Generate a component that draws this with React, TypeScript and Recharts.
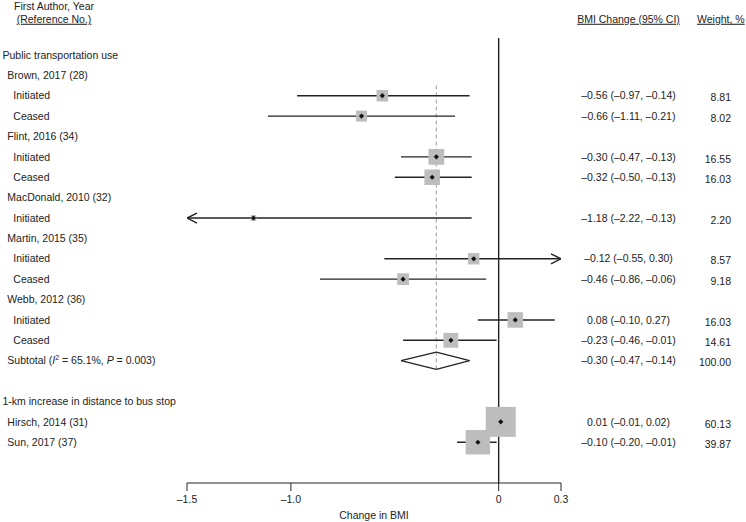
import { ScatterChart, Scatter, XAxis, YAxis, ReferenceLine, Label } from 'recharts';

// Forest plot: BMI change by public transportation use / distance to bus stop

const rowLabels = [
  'Public transportation use',
  'Brown, 2017 (28)', 'Initiated', 'Ceased',
  'Flint, 2016 (34)', 'Initiated', 'Ceased',
  'MacDonald, 2010 (32)', 'Initiated',
  'Martin, 2015 (35)', 'Initiated', 'Ceased',
  'Webb, 2012 (36)', 'Initiated', 'Ceased',
  'Subtotal',
  '',
  '1-km increase in distance to bus stop',
  'Hirsch, 2014 (31)',
  'Sun, 2017 (37)',
];

const rowKinds = [
  'group',
  'study', 'arm', 'arm',
  'study', 'arm', 'arm',
  'study', 'arm',
  'study', 'arm', 'arm',
  'study', 'arm', 'arm',
  'subtotal',
  'blank',
  'group',
  'study',
  'study',
];

const estimates = [null, null, -0.56, -0.66, null, -0.30, -0.32, null, -1.18, null, -0.12, -0.46, null, 0.08, -0.23, -0.30, null, null, 0.01, -0.10];
const ciLower = [null, null, -0.97, -1.11, null, -0.47, -0.50, null, -2.22, null, -0.55, -0.86, null, -0.10, -0.46, -0.47, null, null, -0.01, -0.20];
const ciUpper = [null, null, -0.14, -0.21, null, -0.13, -0.13, null, -0.13, null, 0.30, -0.06, null, 0.27, -0.01, -0.14, null, null, 0.02, -0.01];
const weights = [null, null, 8.81, 8.02, null, 16.55, 16.03, null, 2.20, null, 8.57, 9.18, null, 16.03, 14.61, 100.0, null, null, 60.13, 39.87];

const subtotalI2 = '65.1%';
const subtotalP = '0.003';

const xTicks = [-1.5, -1.0, 0, 0.3];
const X_MIN = -1.5;
const X_MAX = 0.3;

const W = 746;
const H = 522;
const FONT = '"Liberation Sans", Arial, Helvetica, sans-serif';
const FS = 10.5;
const INK = '#222';
const HEAD1 = -2.4;
const HEAD2 = -1.76;

const fmt = (v: number) => (v < 0 ? '\u2013' : '') + Math.abs(v).toFixed(2);
const fmtTick = (v: number) => (v === 0 ? '0' : (v < 0 ? '\u2013' : '') + Math.abs(v).toFixed(1));

const studyPoints = estimates
  .map((e, i) => (e == null || rowKinds[i] === 'subtotal' ? null : { x: e, y: i, w: weights[i] }))
  .filter(Boolean) as { x: number; y: number; w: number }[];

const ciRows = estimates
  .map((e, i) => (e == null || rowKinds[i] === 'subtotal' ? null : {
    y: i,
    lo: Math.max(ciLower[i] as number, X_MIN),
    hi: Math.min(ciUpper[i] as number, X_MAX),
  }))
  .filter(Boolean) as { y: number; lo: number; hi: number }[];

const arrowPoints: { x: number; y: number; dir: number }[] = [];
estimates.forEach((e, i) => {
  if (e == null) return;
  if ((ciLower[i] as number) < X_MIN) arrowPoints.push({ x: X_MIN, y: i, dir: -1 });
  if ((ciUpper[i] as number) >= X_MAX) arrowPoints.push({ x: X_MAX, y: i, dir: 1 });
});

const subIdx = rowKinds.indexOf('subtotal');
const pooled = estimates[subIdx] as number;
const pooledLo = ciLower[subIdx] as number;
const pooledHi = ciUpper[subIdx] as number;

const tickRows = [HEAD1, HEAD2, ...rowLabels.map((_, i) => i).filter((i) => rowKinds[i] !== 'blank')];

function StudyMark(props: any) {
  const { cx, cy, payload } = props;
  const s = 3.87 * Math.sqrt(payload.w);
  const d = 2.6;
  return (
    <g>
      <rect x={cx - s / 2} y={cy - s / 2} width={s} height={s} fill="#bdbdbd" />
      <path d={`M${cx - d},${cy} L${cx},${cy - d} L${cx + d},${cy} L${cx},${cy + d} Z`} fill="#111" />
    </g>
  );
}

function ArrowHead(props: any) {
  const { cx, cy, payload } = props;
  const dir = payload.dir;
  return (
    <path
      d={`M${cx - dir * 10},${cy - 5} L${cx},${cy} L${cx - dir * 10},${cy + 5}`}
      fill="none"
      stroke={INK}
      strokeWidth={1.4}
    />
  );
}

function RowTick(props: any) {
  const { y, payload } = props;
  const v = payload.value;
  const txt = { fontFamily: FONT, fontSize: FS, fill: INK, dy: '0.35em' } as any;

  if (v === HEAD1) {
    return <text x={54} y={y} textAnchor="middle" {...txt}>First Author, Year</text>;
  }
  if (v === HEAD2) {
    return (
      <g>
        <text x={54} y={y} textAnchor="middle" textDecoration="underline" {...txt}>(Reference No.)</text>
        <text x={628.5} y={y} textAnchor="middle" textDecoration="underline" {...txt}>BMI Change (95% CI)</text>
        <text x={697} y={y} textAnchor="start" textDecoration="underline" {...txt}>Weight, %</text>
      </g>
    );
  }

  const i = v as number;
  const kind = rowKinds[i];
  const lx = kind === 'group' ? 2.5 : kind === 'arm' ? 13.3 : 7.3;
  const e = estimates[i];

  let label: any = <text x={lx} y={y} {...txt}>{rowLabels[i]}</text>;
  if (kind === 'subtotal') {
    label = (
      <text x={lx} y={y} {...txt}>
        <tspan>{rowLabels[i]} (</tspan>
        <tspan fontStyle="italic">I</tspan>
        <tspan fontSize={7} dy={-4}>2</tspan>
        <tspan dy={4}>{` = ${subtotalI2}, `}</tspan>
        <tspan fontStyle="italic">P</tspan>
        <tspan>{` = ${subtotalP})`}</tspan>
      </text>
    );
  }

  return (
    <g>
      {label}
      {e != null && (
        <>
          <text x={628.5} y={y} textAnchor="middle" {...txt}>
            {`${fmt(e)} (${fmt(ciLower[i] as number)}, ${fmt(ciUpper[i] as number)})`}
          </text>
          <text x={731} y={y + 2} textAnchor="end" {...txt}>
            {(weights[i] as number).toFixed(2)}
          </text>
        </>
      )}
    </g>
  );
}

export default function App() {
  return (
    <div style={{ position: 'absolute', left: 0, top: 0, width: W, height: H, background: '#fff' }}>
      <ScatterChart width={W} height={H} margin={{ top: 4, right: 185, bottom: 0, left: 0 }}>
        <XAxis
          type="number"
          dataKey="x"
          domain={[X_MIN, X_MAX]}
          ticks={xTicks}
          interval={0}
          allowDataOverflow
          tickFormatter={fmtTick}
          tickSize={8}
          tickMargin={5}
          height={39}
          stroke={INK}
          tick={{ fill: INK, fontSize: FS, fontFamily: FONT }}
        >
          <Label
            content={({ viewBox }: any) => (
              <text
                x={viewBox.x + viewBox.width / 2}
                y={viewBox.y + 35.5}
                textAnchor="middle"
                fontFamily={FONT}
                fontSize={FS}
                fill={INK}
              >
                Change in BMI
              </text>
            )}
          />
        </XAxis>
        <YAxis
          type="number"
          dataKey="y"
          domain={[-2.5, 21]}
          reversed
          allowDataOverflow
          ticks={tickRows}
          interval={0}
          width={187}
          axisLine={false}
          tickLine={false}
          tick={<RowTick />}
        />

        <ReferenceLine
          segment={[{ x: pooled, y: 1.5 }, { x: pooled, y: subIdx + 0.42 }]}
          stroke="#aaa"
          strokeWidth={1.2}
          strokeDasharray="4 3"
        />
        <ReferenceLine
          segment={[{ x: 0, y: -0.83 }, { x: 0, y: 21 }]}
          stroke={INK}
          strokeWidth={1.4}
        />

        <Scatter data={studyPoints} shape={<StudyMark />} isAnimationActive={false} />

        {ciRows.map((r) => (
          <ReferenceLine
            key={`ci-${r.y}`}
            segment={[{ x: r.lo, y: r.y }, { x: r.hi, y: r.y }]}
            stroke={INK}
            strokeWidth={1.4}
          />
        ))}

        <Scatter data={arrowPoints} shape={<ArrowHead />} isAnimationActive={false} />

        {/* pooled diamond */}
        <ReferenceLine segment={[{ x: pooledLo, y: subIdx }, { x: pooled, y: subIdx - 0.42 }]} stroke={INK} strokeWidth={1.3} />
        <ReferenceLine segment={[{ x: pooled, y: subIdx - 0.42 }, { x: pooledHi, y: subIdx }]} stroke={INK} strokeWidth={1.3} />
        <ReferenceLine segment={[{ x: pooledHi, y: subIdx }, { x: pooled, y: subIdx + 0.42 }]} stroke={INK} strokeWidth={1.3} />
        <ReferenceLine segment={[{ x: pooled, y: subIdx + 0.42 }, { x: pooledLo, y: subIdx }]} stroke={INK} strokeWidth={1.3} />
      </ScatterChart>
    </div>
  );
}
